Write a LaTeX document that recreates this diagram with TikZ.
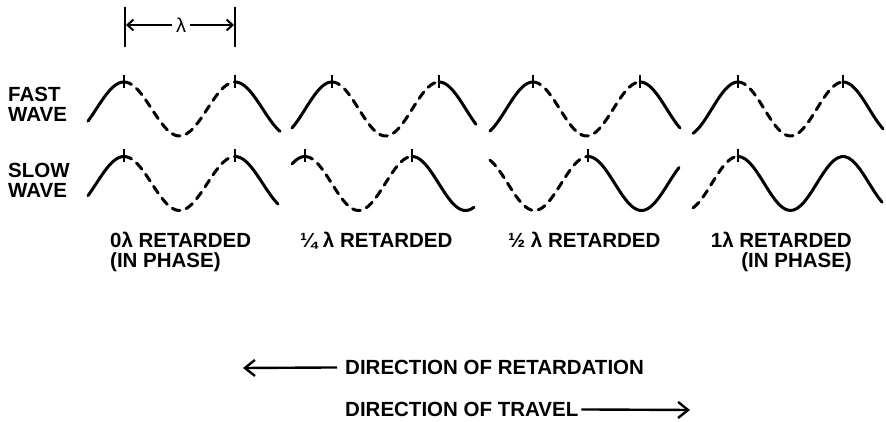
\documentclass[tikz,border=0pt]{standalone}
\usepackage{fontspec}
\setmainfont{Liberation Sans}
\usetikzlibrary{arrows.meta}

\begin{document}
\begin{tikzpicture}[x=1pt,y=-1pt,
every node/.style={inner sep=0pt,font=\bfseries\fontsize{20.5}{20}\selectfont},
declare function={wv(\t,\c,\p,\L)=\c-27*cos((\t-\p)/\L*360);},
wave/.style={line width=3pt,line cap=round,variable=\t,samples=40},
gap/.style={wave,dash pattern=on 8pt off 6.5pt},
tick/.style={line width=2.4pt},
bar/.style={line width=2.8pt},
dim/.style={line width=2pt,-{Straight Barb[length=6pt,width=11pt]}},
arr/.style={line width=2.4pt,-{Straight Barb[length=10pt,width=16pt]}}
]
\useasboundingbox (0,0) rectangle (886,422);

% wavelength
\draw[bar] (125,7) -- (125,47);
\draw[bar] (235,7) -- (235,47);
\coordinate (dl) at (126,25);
\coordinate (dr) at (234,25);
\node[inner xsep=4pt,font=\fontsize{20}{20}\selectfont] (lam) at (181,25) {λ};
\draw[dim] (lam) -- (dl);
\draw[dim] (lam) -- (dr);

% wave names
\node[anchor=north west,align=left] (fast) at (8,87) {FAST\\WAVE};
\node[anchor=north west,align=left] (slow) at (8,163) {SLOW\\WAVE};

% the four pairs
\foreach \xa/\fb/\sb/\p/\L/\s in {88/280/278/124/111/0,292/476/474/332/107/27,
                                  490/680/679/533/107/52,693/883/882/738/105/105}{
  \pgfmathsetmacro\q{\p+\L}
  \draw[wave,domain=\xa:\p] plot (\t,{wv(\t,109,\p,\L)});
  \draw[gap,domain=\p:\q] plot (\t,{wv(\t,109,\p,\L)});
  \draw[wave,domain=\q:\fb] plot (\t,{wv(\t,109,\p,\L)});
  \draw[tick] (\p,75) -- ++(0,13);
  \draw[tick] (\q,75) -- ++(0,13);
  \pgfmathsetmacro\ra{\p-\s}
  \pgfmathsetmacro\rb{\q-\s}
  \pgfmathsetmacro\ds{max(\xa,\ra)}
  \pgfmathtruncatemacro\lead{\ra>\xa}
  \ifnum\lead=1
    \draw[wave,domain=\xa:\ra] plot (\t,{wv(\t,183.5,\ra,\L)});
    \draw[tick] (\ra,149.5) -- ++(0,13);
  \fi
  \draw[gap,domain=\ds:\rb] plot (\t,{wv(\t,183.5,\ra,\L)});
  \draw[wave,domain=\rb:\sb] plot (\t,{wv(\t,183.5,\ra,\L)});
  \draw[tick] (\rb,149.5) -- ++(0,13);
}

% retardation labels
\node[anchor=north west,align=left] (ret0) at (110,232) {0λ RETARDED\\(IN PHASE)};
\node[anchor=north west] (ret1) at (300,232) {¼ λ RETARDED};
\node[anchor=north west] (ret2) at (508,232) {½ λ RETARDED};
\node[anchor=north east,align=right] (ret3) at (852,232) {1λ RETARDED\\(IN PHASE)};

% directions
\node[anchor=north west] (retard) at (345,360) {DIRECTION OF RETARDATION};
\node[anchor=north west] (travel) at (345,402) {DIRECTION OF TRAVEL};
\coordinate (rtip) at (243,368);
\coordinate (ttip) at (690,410);
\draw[arr] ([xshift=-8pt]retard.west) -- (rtip);
\draw[arr] ([xshift=3pt]travel.east) -- (ttip);
\end{tikzpicture}
\end{document}
